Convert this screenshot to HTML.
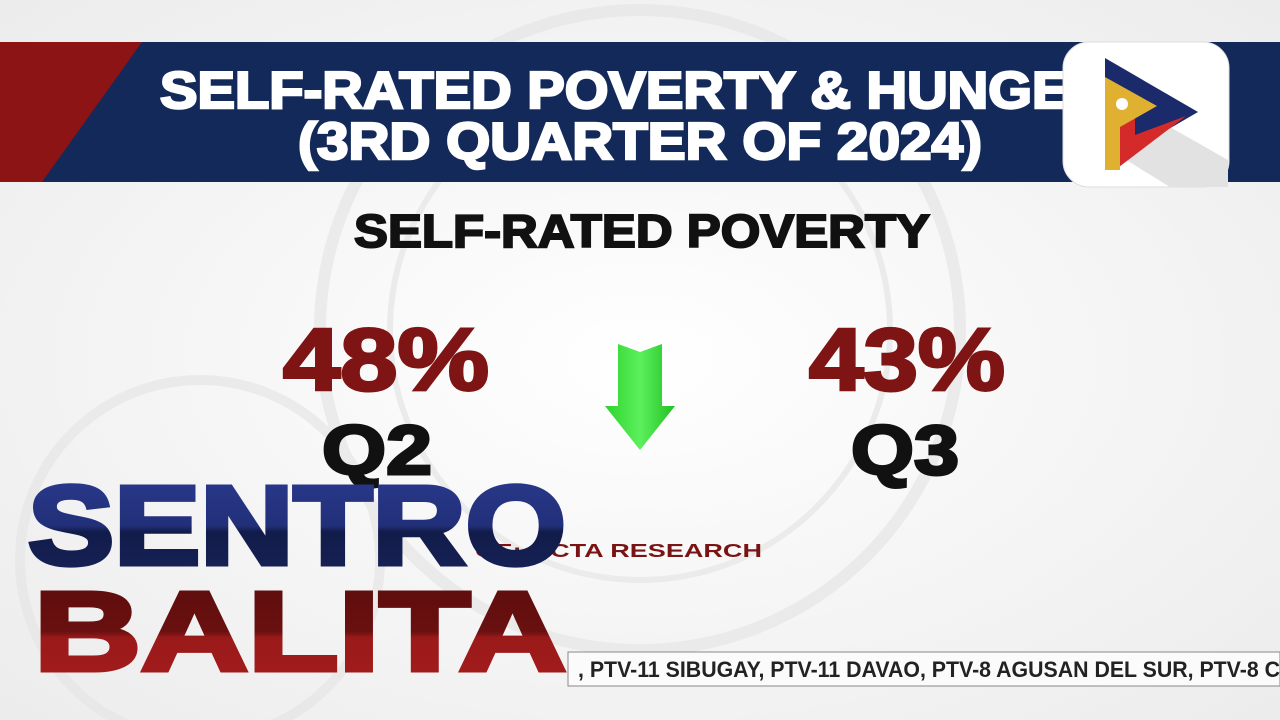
<!DOCTYPE html>
<html><head><meta charset="utf-8"><style>
html,body{margin:0;padding:0;width:1280px;height:720px;overflow:hidden;background:#f3f3f3}
svg{display:block}
text{font-family:"Liberation Sans",sans-serif;font-weight:bold}
</style></head><body>
<svg width="1280" height="720" viewBox="0 0 1280 720">
<defs>
<radialGradient id="bg" cx="50%" cy="50%" r="70%"><stop offset="0" stop-color="#ffffff"/><stop offset="1" stop-color="#ececec"/></radialGradient>
<linearGradient id="navy" x1="0" y1="0" x2="0" y2="1"><stop offset="0" stop-color="#2a3a8e"/><stop offset="0.5" stop-color="#22307a"/><stop offset="0.55" stop-color="#121c4a"/><stop offset="1" stop-color="#18235a"/></linearGradient>
<linearGradient id="red" x1="0" y1="0" x2="0" y2="1"><stop offset="0" stop-color="#5a0c0c"/><stop offset="0.5" stop-color="#6a1010"/><stop offset="0.55" stop-color="#9a1a1a"/><stop offset="1" stop-color="#a61c1c"/></linearGradient>
<linearGradient id="green" x1="0" y1="0" x2="1" y2="0"><stop offset="0" stop-color="#2ed22e"/><stop offset="0.5" stop-color="#5cf05c"/><stop offset="1" stop-color="#22c022"/></linearGradient>
</defs>
<rect width="1280" height="720" fill="url(#bg)"/>
<g fill="none" stroke="#e6e6e6" stroke-width="12" opacity="0.7">
<circle cx="640" cy="330" r="320"/>
<circle cx="640" cy="330" r="250" stroke-width="6"/>
<circle cx="200" cy="560" r="180" stroke-width="10"/>
</g>
<!-- header -->
<rect x="0" y="42" width="1280" height="140" fill="#12295a"/>
<polygon points="0,42 142,42 42,182 0,182" fill="#8c1414"/>
<text x="160" y="108" font-size="52" fill="#fff" stroke="#fff" stroke-width="2.5" textLength="950" lengthAdjust="spacingAndGlyphs">SELF-RATED POVERTY &amp; HUNGER</text>
<text x="298" y="159" font-size="52" fill="#fff" stroke="#fff" stroke-width="2.5" textLength="684" lengthAdjust="spacingAndGlyphs">(3RD QUARTER OF 2024)</text>
<!-- logo -->
<rect x="1063" y="42" width="166" height="145" rx="26" fill="#fff" stroke="#ddd"/>
<polygon points="1140,110 1228,160 1228,187 1170,187 1110,150" fill="#e2e2e2"/>
<polygon points="1105,58 1198,112 1105,166" fill="#1a2a6a"/>
<polygon points="1105,135 1135,117 1135,135 1186,116 1115,170 1105,170" fill="#d42a2a"/>
<polygon points="1105,77 1157,106 1120,127 1120,170 1105,170" fill="#e0b030"/>
<circle cx="1122" cy="104" r="6" fill="#fff"/>
<!-- subtitle -->
<text x="642" y="247" font-size="46" fill="#111" stroke="#111" stroke-width="2" text-anchor="middle" textLength="576" lengthAdjust="spacingAndGlyphs">SELF-RATED POVERTY</text>
<text x="386" y="390" font-size="88" fill="#7e1414" stroke="#7e1414" stroke-width="3" text-anchor="middle" textLength="206" lengthAdjust="spacingAndGlyphs">48%</text>
<text x="907" y="390" font-size="88" fill="#7e1414" stroke="#7e1414" stroke-width="3" text-anchor="middle" textLength="196" lengthAdjust="spacingAndGlyphs">43%</text>
<text x="377" y="474" font-size="70" fill="#111" stroke="#111" stroke-width="3" text-anchor="middle" textLength="110" lengthAdjust="spacingAndGlyphs">Q2</text>
<text x="905" y="474" font-size="70" fill="#111" stroke="#111" stroke-width="3" text-anchor="middle" textLength="108" lengthAdjust="spacingAndGlyphs">Q3</text>
<polygon points="618,344 640,352 662,344 662,406 675,406 640,450 605,406 618,406" fill="url(#green)"/>
<text x="475" y="557" font-size="18" fill="#7a1414" textLength="287" lengthAdjust="spacingAndGlyphs">CE: OCTA RESEARCH</text>
<!-- ticker -->
<rect x="568" y="652" width="712" height="34" fill="#fbfbfb" stroke="#888" stroke-width="1"/>
<text x="578" y="677" font-size="22" fill="#222" textLength="702" lengthAdjust="spacingAndGlyphs">, PTV-11 SIBUGAY, PTV-11 DAVAO, PTV-8 AGUSAN DEL SUR, PTV-8 C</text>
<!-- logo text -->
<text x="28" y="564" font-size="112" fill="url(#navy)" stroke="#fff" stroke-width="2" textLength="538" lengthAdjust="spacingAndGlyphs">SENTRO</text>
<text x="28" y="564" font-size="112" fill="none" stroke="url(#navy)" stroke-width="5" textLength="538" lengthAdjust="spacingAndGlyphs">SENTRO</text>
<text x="34" y="670" font-size="112" fill="url(#red)" stroke="#fff" stroke-width="2" textLength="532" lengthAdjust="spacingAndGlyphs">BALITA</text>
<text x="34" y="670" font-size="112" fill="none" stroke="url(#red)" stroke-width="5" textLength="532" lengthAdjust="spacingAndGlyphs">BALITA</text>
</svg>
</body></html>
